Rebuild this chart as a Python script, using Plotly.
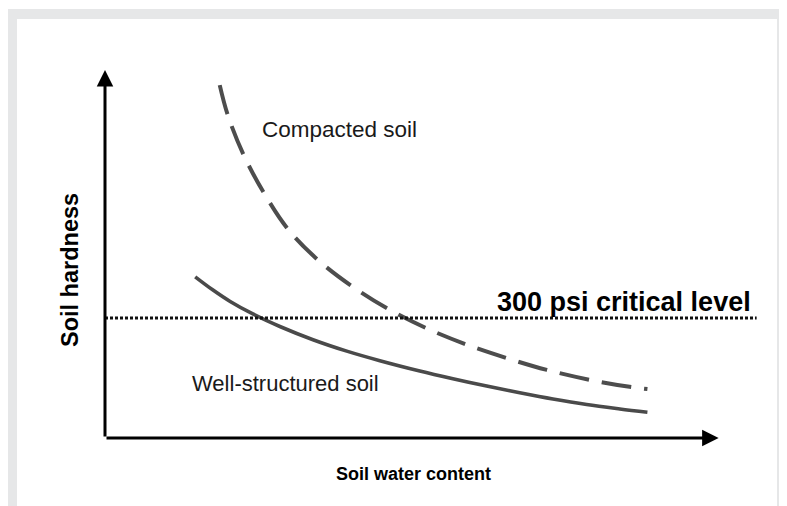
import plotly.graph_objects as go

# ---- data (arbitrary units: water content 0-100, hardness 0-100) ----
compacted_x = [18.7, 20.0, 22.6, 25.9, 29.8, 34.7, 40.2, 46.1, 52.3, 58.6, 65.5, 72.0, 79.0, 85.5, 88.4]
compacted_y = [95.9, 87.8, 76.9, 66.6, 56.8, 48.4, 41.3, 35.1, 29.9, 25.6, 21.7, 18.5, 15.8, 13.9, 13.3]
structured_x = [14.7, 17.6, 20.4, 24.1, 28.5, 33.9, 39.4, 44.8, 51.3, 56.7, 62.2, 67.6, 73.0, 78.5, 83.9, 88.4]
structured_y = [43.8, 40.2, 37.1, 33.7, 30.3, 26.7, 23.6, 21.0, 18.2, 16.1, 14.1, 12.3, 10.6, 9.1, 7.9, 7.0]
critical_level = 32.6
critical_label = "300 psi critical level"
axis_max_x = 100
axis_max_y = 100

# the page has a default 8px body margin: work in screen pixels and offset
OFF = 8
W, H = 787, 506
ML, MT = 105 - OFF, 70 - OFF
PW, PH = 675, 368
MR, MB = W - ML - PW, H - MT - PH

def pxx(x):
    return (x - OFF - ML) / PW

def pxy(y):
    return (MT + PH - (y - OFF)) / PH

fig = go.Figure()
fig.add_trace(go.Scatter(x=compacted_x, y=compacted_y, mode="lines",
                         line=dict(color="#4d4d4d", width=4, dash="30px,13px", shape="spline", smoothing=1.0),
                         hoverinfo="skip"))
fig.add_trace(go.Scatter(x=structured_x, y=structured_y, mode="lines",
                         line=dict(color="#4a4a4a", width=3.6, shape="spline", smoothing=1.0),
                         hoverinfo="skip"))

frame = "#e6e7e8"
def strip(x0, y0, x1, y1):
    return dict(type="rect", xref="paper", yref="paper", x0=pxx(x0), x1=pxx(x1), y0=pxy(y1), y1=pxy(y0),
                fillcolor=frame, line=dict(width=0), layer="below")

shapes = [
    strip(7, 9, 800, 19),     # top
    strip(7, 19, 17, 520),    # left
    strip(777, 19, 800, 520), # right
    dict(type="line", xref="x", yref="y", x0=0, x1=106.2, y0=critical_level, y1=critical_level,
         line=dict(color="#111111", width=3, dash="3px,2px")),
]

txt = "#1a1a1a"
font_n = "Liberation Sans, Arial, sans-serif"
annotations = [
    # axes with arrows
    dict(x=0, y=axis_max_y, ax=0, ay=0, xref="x", yref="y", axref="x", ayref="y",
         showarrow=True, arrowhead=2, arrowsize=1.1, arrowwidth=3, arrowcolor="black", text="", standoff=0),
    dict(x=axis_max_x, y=0, ax=0, ay=0, xref="x", yref="y", axref="x", ayref="y",
         showarrow=True, arrowhead=2, arrowsize=1.1, arrowwidth=3, arrowcolor="black", text="", standoff=0),
    dict(x=pxx(260), y=pxy(129), xref="paper", yref="paper", text="Compacted soil", showarrow=False,
         xanchor="left", yanchor="middle", font=dict(family=font_n, size=22.5, color=txt)),
    dict(x=pxx(190), y=pxy(383), xref="paper", yref="paper", text="Well-structured soil", showarrow=False,
         xanchor="left", yanchor="middle", font=dict(family=font_n, size=22, color=txt)),
    dict(x=pxx(753), y=pxy(302), xref="paper", yref="paper", text="<b>" + critical_label + "</b>", showarrow=False,
         xanchor="right", yanchor="middle", font=dict(family=font_n, size=27, color="black")),
    dict(x=pxx(70), y=pxy(270), xref="paper", yref="paper", text="<b>Soil hardness</b>", showarrow=False,
         textangle=-90, xanchor="center", yanchor="middle", font=dict(family=font_n, size=23.5, color="black")),
    dict(x=pxx(413), y=pxy(474), xref="paper", yref="paper", text="<b>Soil water content</b>", showarrow=False,
         xanchor="center", yanchor="middle", font=dict(family=font_n, size=18, color="black")),
]

fig.update_layout(
    width=W, height=H,
    margin=dict(l=ML, r=MR, t=MT, b=MB, pad=0),
    paper_bgcolor="white", plot_bgcolor="rgba(0,0,0,0)",
    showlegend=False,
    xaxis=dict(range=[0, PW / (718.6 - 105) * axis_max_x], visible=False, fixedrange=True),
    yaxis=dict(range=[0, axis_max_y], visible=False, fixedrange=True),
    shapes=shapes, annotations=annotations,
)

fig.write_html("out.html", config={"displayModeBar": False})
